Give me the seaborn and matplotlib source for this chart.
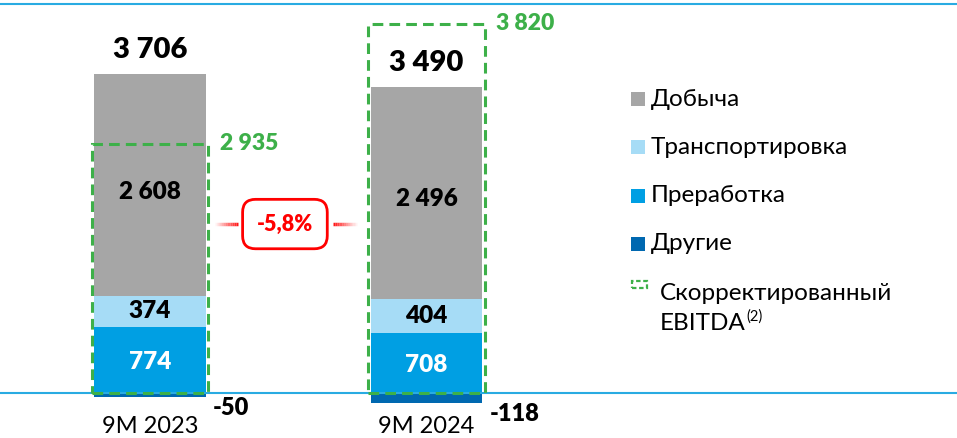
import numpy as np
import pandas as pd
import matplotlib
matplotlib.use("Agg")
import matplotlib.pyplot as plt
import seaborn as sns
from matplotlib.patches import Rectangle
from matplotlib.collections import LineCollection

# data (EBITDA by segment, bn)
periods = ["9M 2023", "9M 2024"]
dobycha = [2608, 2496]
transport = [374, 404]
processing = [774, 708]
other = [-50, -118]
totals = [3706, 3490]
adj_ebitda = [2935, 3820]
change_label = "-5,8%"

segment_names = ["Добыча", "Транспортировка", "Преработка", "Другие"]
colors = {"Добыча": "#a6a6a6", "Транспортировка": "#a6dcf6",
          "Преработка": "#009fe3", "Другие": "#0068b0"}
green = "#3db049"
red = "#ff0000"
line_blue = "#29abe2"
BOLD = 800

sns.set_style("white")
plt.rcParams["font.family"] = ["Lato", "DejaVu Sans"]

df = pd.DataFrame({"period": periods, "dobycha": dobycha, "transport": transport,
                   "processing": processing, "other": other})
df["b_transport"] = df["processing"]
df["b_dobycha"] = df["processing"] + df["transport"]
df["top"] = df["b_dobycha"] + df["dobycha"]

fig = plt.figure(figsize=(9.57, 4.38), dpi=100)
ax = fig.add_axes([0, 0, 1, 1])

bw = 0.405
sns.barplot(data=df, x="period", y="processing", color=colors["Преработка"], width=bw,
            ax=ax, saturation=1, linewidth=0)
sns.barplot(data=df, x="period", y="transport", bottom=df["b_transport"], color=colors["Транспортировка"],
            width=bw, ax=ax, saturation=1, linewidth=0)
sns.barplot(data=df, x="period", y="dobycha", bottom=df["b_dobycha"], color=colors["Добыча"],
            width=bw, ax=ax, saturation=1, linewidth=0)
sns.barplot(data=df, x="period", y="other", color=colors["Другие"], width=bw,
            ax=ax, saturation=1, linewidth=0)

ax.set_xlim(-0.5425, 2.9186)
ax.set_ylim(-530, 4629)
ax.axis("off")

# baseline and top rule
ax.axhline(0, color=line_blue, lw=1.5, zorder=1)
fig.add_artist(plt.Line2D([0, 1], [0.991, 0.991], color=line_blue, lw=1.5, transform=fig.transFigure))

label_pad = 740  # the slide lets the adjusted box clear the total label
for i, row in df.iterrows():
    # segment labels
    ax.text(i, row["b_dobycha"] + row["dobycha"] / 2 - 80, f"{row['dobycha']:,}".replace(",", " "),
            ha="center", va="center", fontsize=17.5, fontweight=BOLD, color="black")
    ax.text(i, row["b_transport"] + row["transport"] / 2, f"{row['transport']}",
            ha="center", va="center", fontsize=17.5, fontweight=BOLD, color="black")
    ax.text(i, row["processing"] / 2 - 20, f"{row['processing']}",
            ha="center", va="center", fontsize=17.5, fontweight=BOLD, color="white")
    ax.text(i + 0.228, row["other"] - 130, f"{row['other']}", ha="left", va="center",
            fontsize=17, fontweight=BOLD, color="black")
    # total
    ax.annotate(f"{totals[i]:,}".replace(",", " "), (i, row["top"]), xytext=(0, 8),
                textcoords="offset points", ha="center", va="bottom",
                fontsize=21, fontweight=BOLD, color="black")
    # adjusted EBITDA dashed box
    adj = adj_ebitda[i]
    box_top = adj if adj < row["top"] else row["top"] + label_pad
    bx = 0.423
    ax.add_patch(Rectangle((i - bx / 2, 0), bx, box_top, fill=False, ec=green, lw=2.2,
                           ls=(0, (3.5, 2)), zorder=5))
    ax.annotate(f"{adj:,}".replace(",", " "), (i + bx / 2, box_top), xytext=(8, 0),
                textcoords="offset points", ha="left", va="center",
                fontsize=16.5, fontweight=BOLD, color=green)
    # x labels
    ax.text(i, -400, periods[i], ha="center", va="center", fontsize=17, color="black")

# change badge
ax.text(0.488, 1990, change_label, ha="center", va="center", fontsize=15.5, fontweight=BOLD,
        color=red, zorder=6,
        bbox=dict(boxstyle="round,pad=0.66,rounding_size=0.6", fc="white", ec=red, lw=2))
for x0, x1 in [(0.235, 0.318), (0.748, 0.661)]:
    xs = np.linspace(x0, x1, 12)
    segs = [[(xs[k], 1990), (xs[k + 1], 1990)] for k in range(11)]
    alphas = np.linspace(0.05, 0.9, 11)
    lc = LineCollection(segs, colors=[(1, 0, 0, a) for a in alphas], lw=2.5, zorder=4)
    ax.add_collection(lc)

# legend (manual, matches slide layout)
def fx(px):
    return px / 957

def fy(py):
    return 1 - py / 438

legend_y = [99, 147, 196, 244]
for name, py in zip(segment_names, legend_y):
    fig.add_artist(Rectangle((fx(631), fy(py + 7)), 14 / 957, 14 / 438, transform=fig.transFigure,
                             fc=colors[name], ec="none"))
    fig.text(fx(651), fy(py), name, ha="left", va="center", fontsize=17.5, color="black")
fig.add_artist(Rectangle((fx(632), fy(288)), 15 / 957, 7 / 438, transform=fig.transFigure,
                         fill=False, ec=green, lw=1.6, ls=(0, (2, 1.2))))
fig.text(fx(660), fy(293), "Скорректированный", ha="left", va="center", fontsize=17.5, color="black")
t = fig.text(fx(660), fy(323), "EBITDA", ha="left", va="center", fontsize=17.5, color="black")
ax.annotate("(2)", xy=(1, 0.8), xycoords=t, xytext=(0.5, 0), textcoords="offset points",
            ha="left", va="center", fontsize=10.5, color="black")

fig.savefig("out.png", dpi=100)
